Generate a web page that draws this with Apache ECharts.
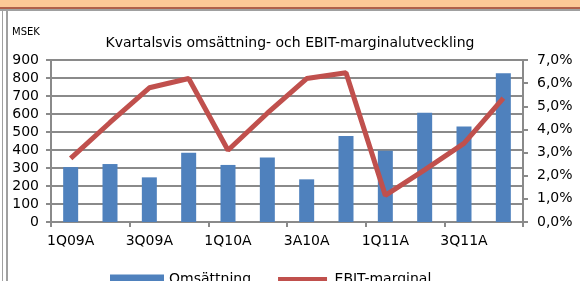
<!DOCTYPE html>
<html>
<head>
<meta charset="utf-8">
<script src="https://cdn.jsdelivr.net/npm/echarts@6/dist/echarts.min.js"></script>
<style>
  html, body { margin: 0; padding: 0; background: #fff; }
  #main { width: 580px; height: 281px; }
</style>
</head>
<body>
<div id="main"></div>
<script>
var quarters = ['1Q09A', '2Q09A', '3Q09A', '4Q09A', '1Q10A', '2Q10A', '3A10A', '4Q10A', '1Q11A', '2Q11A', '3Q11A', '4Q11A'];
var omsattning = [305, 322, 248, 385, 317, 359, 237, 478, 396, 607, 530, 826];
var ebitMarginal = [2.75, 4.3, 5.8, 6.2, 3.1, 4.7, 6.2, 6.45, 1.15, 2.25, 3.4, 5.35];

var myChart = echarts.init(document.getElementById('main'));
var font = 'DejaVu Sans';
var gridGray = '#8a8a8a';

var option = {
    backgroundColor: '#fff',
    animation: false,
    title: {
        text: 'Kvartalsvis omsättning- och EBIT-marginalutveckling',
        left: 'center',
        top: 31,
        textStyle: { fontFamily: font, fontSize: 14, fontWeight: 'normal', color: '#000' }
    },
    graphic: [
        { type: 'rect', shape: { x: 0, y: 0, width: 580, height: 7 }, style: { fill: '#fcc896' } },
        { type: 'rect', shape: { x: 0, y: 7, width: 580, height: 2 }, style: { fill: '#b0604a' } },
        { type: 'rect', shape: { x: 0, y: 9, width: 580, height: 2 }, style: { fill: '#a0a0a0' } },
        { type: 'rect', shape: { x: 2, y: 9, width: 1, height: 272 }, style: { fill: '#a0a0a0' } },
        { type: 'rect', shape: { x: 6, y: 9, width: 2, height: 272 }, style: { fill: '#a0a0a0' } },
        {
            type: 'text', left: 12, top: 27,
            style: { text: 'MSEK', font: '10px "DejaVu Sans"', fill: '#000' }
        }
    ],
    legend: {
        data: [
            { name: 'Omsättning', icon: 'rect' },
            { name: 'EBIT-marginal', icon: 'rect', itemStyle: { borderColor: '#fff', borderWidth: 5 } }
        ],
        left: 105,
        top: 267,
        itemWidth: 54,
        itemHeight: 10,
        itemGap: 22,
        textStyle: { fontFamily: font, fontSize: 14, color: '#000' }
    },
    grid: { left: 51, right: 57, top: 60, bottom: 59 },
    xAxis: {
        type: 'category',
        data: quarters,
        axisLine: { lineStyle: { color: gridGray, width: 2 } },
        axisTick: { show: true, alignWithLabel: false, length: 5, lineStyle: { color: gridGray, width: 2 } },
        axisLabel: { interval: 1, margin: 12, fontFamily: font, fontSize: 14, color: '#000' }
    },
    yAxis: [{
        type: 'value',
        min: 0, max: 900, interval: 100,
        axisLine: { show: true, lineStyle: { color: gridGray, width: 2 } },
        axisTick: { show: true, length: 5, lineStyle: { color: gridGray, width: 2 } },
        splitLine: { lineStyle: { color: gridGray, width: 2 } },
        axisLabel: { margin: 12, fontFamily: font, fontSize: 14, color: '#000' }
    }, {
        type: 'value',
        min: 0, max: 7, interval: 1,
        position: 'right',
        axisLine: { show: true, lineStyle: { color: gridGray, width: 2 } },
        axisTick: { show: true, length: 5, lineStyle: { color: gridGray, width: 2 } },
        splitLine: { show: false },
        axisLabel: {
            margin: 14, fontFamily: font, fontSize: 14, color: '#000',
            formatter: function(v) { return v.toFixed(1).replace('.', ',') + '%'; }
        }
    }],
    series: [{
        name: 'Omsättning',
        type: 'bar',
        data: omsattning,
        barWidth: 15,
        itemStyle: { color: '#4f81bd' }
    }, {
        name: 'EBIT-marginal',
        type: 'line',
        yAxisIndex: 1,
        data: ebitMarginal,
        symbol: 'none',
        lineStyle: { color: '#c0504d', width: 5 },
        itemStyle: { color: '#c0504d' }
    }]
};
myChart.setOption(option);
</script>
</body>
</html>
